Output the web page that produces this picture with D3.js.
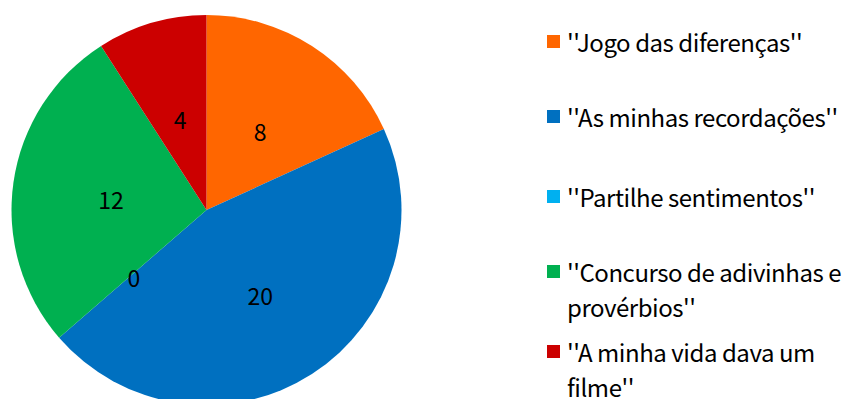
<!DOCTYPE html>
<html>
<head>
<meta charset="utf-8">
<script src="https://cdn.jsdelivr.net/npm/d3@7"></script>
<style>
  html, body { margin: 0; padding: 0; background: #fff; }
  svg { display: block; }
  text { font-family: "Noto Sans CJK JP", "Noto Sans", sans-serif; fill: #000; }
</style>
</head>
<body>
<svg id="chart" width="843" height="399"></svg>
<script>
// Activities and how many times each was chosen
const categories = [
  "''Jogo das diferenças''",
  "''As minhas recordações''",
  "''Partilhe sentimentos''",
  "''Concurso de adivinhas e provérbios''",
  "''A minha vida dava um filme''"
];
const values = [8, 20, 0, 12, 4];
const colors = ["#FF6600", "#0070C0", "#00B0F0", "#00B050", "#CC0000"];

const W = 843, H = 399;
const cx = 206.5, cy = 210, radius = 195;
const fontSize = 24;

const svg = d3.select("#chart");

const data = categories.map((c, i) => ({ name: c, value: values[i], color: colors[i] }));

const pie = d3.pie().value(d => d.value).sort(null);
const arcs = pie(data);
const arc = d3.arc().innerRadius(0).outerRadius(radius);
const labelArc = d3.arc().innerRadius(radius * 0.5).outerRadius(radius * 0.5);

const g = svg.append("g").attr("transform", `translate(${cx},${cy})`);

g.selectAll("path.slice")
  .data(arcs)
  .join("path")
  .attr("class", "slice")
  .attr("d", arc)
  .attr("fill", d => d.data.color);

g.selectAll("text.val")
  .data(arcs)
  .join("text")
  .attr("class", "val")
  .attr("transform", d => {
    const [x, y] = labelArc.centroid(d);
    return `translate(${x + 1},${y + 3})`;
  })
  .attr("text-anchor", "middle")
  .attr("dominant-baseline", "central")
  .style("font-size", "23px")
  .text(d => d.data.value);

// Legend
const legendX = 547, textX = 567, lineH = 35, maxW = 278;
const rowBaselines = [52, 127, 207, 282, 362];

const legend = svg.append("g");
data.forEach((d, i) => {
  const base = rowBaselines[i];
  legend.append("rect")
    .attr("x", legendX).attr("y", base - 17)
    .attr("width", 13).attr("height", 13)
    .attr("fill", d.color);
  const t = legend.append("text")
    .attr("x", textX).attr("y", base)
    .style("font-size", fontSize + "px")
    .style("letter-spacing", "-0.45px");
  // word wrap within the available width
  const words = d.name.split(" ");
  let line = [], lineNo = 0;
  let tspan = t.append("tspan").attr("x", textX).attr("y", base);
  words.forEach(w => {
    line.push(w);
    tspan.text(line.join(" "));
    if (tspan.node().getComputedTextLength() > maxW && line.length > 1) {
      line.pop();
      tspan.text(line.join(" "));
      line = [w];
      lineNo++;
      tspan = t.append("tspan").attr("x", textX).attr("y", base + lineNo * lineH).text(w);
    }
  });
});
</script>
</body>
</html>
